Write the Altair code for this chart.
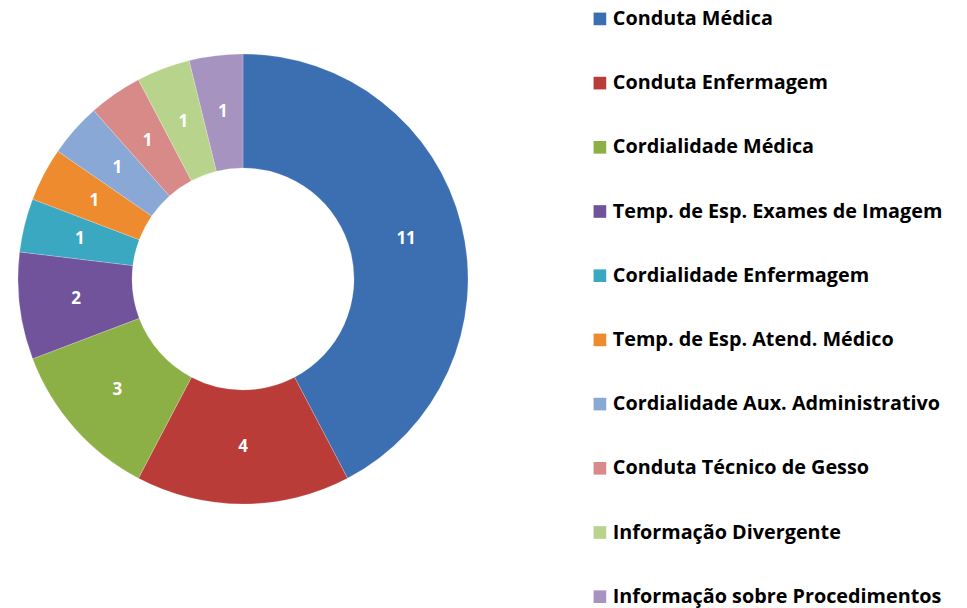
import altair as alt
import pandas as pd

categories = [
    "Conduta Médica",
    "Conduta Enfermagem",
    "Cordialidade Médica",
    "Temp. de Esp. Exames de Imagem",
    "Cordialidade Enfermagem",
    "Temp. de Esp. Atend. Médico",
    "Cordialidade Aux. Administrativo",
    "Conduta Técnico de Gesso",
    "Informação Divergente",
    "Informação sobre Procedimentos",
]
values = [11, 4, 3, 2, 1, 1, 1, 1, 1, 1]
colors = [
    "#3B6FB1", "#B93C38", "#8CB046", "#71539B", "#3AA8C1",
    "#EF8B2F", "#8AA8D6", "#D88A89", "#B8D48C", "#A793C0",
]

df = pd.DataFrame({"cat": categories, "value": values, "idx": list(range(len(values)))})

FONT = "Open Sans"
cx, cy = 235, 271

color = alt.Color(
    "cat:N",
    scale=alt.Scale(domain=categories, range=colors),
    sort=None,
    legend=alt.Legend(
        title=None,
        orient="none",
        legendX=582,
        legendY=1,
        symbolType="square",
        symbolSize=160,
        symbolStrokeWidth=0,
        labelFont=FONT,
        labelFontWeight="bold",
        labelFontSize=19.8,
        labelColor="#000000",
        labelLimit=400,
        labelOffset=3,
        rowPadding=43.2,
    ),
)

base = alt.Chart(df).encode(
    theta=alt.Theta("value:Q", stack=True),
    order=alt.Order("idx:Q"),
)

arcs = base.mark_arc(
    outerRadius=225, innerRadius=111, x=cx, y=cy,
    stroke="#ffffff", strokeWidth=0.5, strokeOpacity=0.4,
).encode(color=color)

labels = base.mark_text(
    radius=168, x=cx, y=cy, font=FONT, fontWeight="bold", fontSize=17,
    color="white", align="center", baseline="middle",
).encode(text="value:Q")

chart = (
    alt.layer(arcs, labels)
    .properties(width=951, height=600, padding=0, autosize=alt.AutoSizeParams(type="none"))
    .configure_view(stroke=None)
)

chart.save("out.html", embed_options={"renderer": "svg", "actions": False})
